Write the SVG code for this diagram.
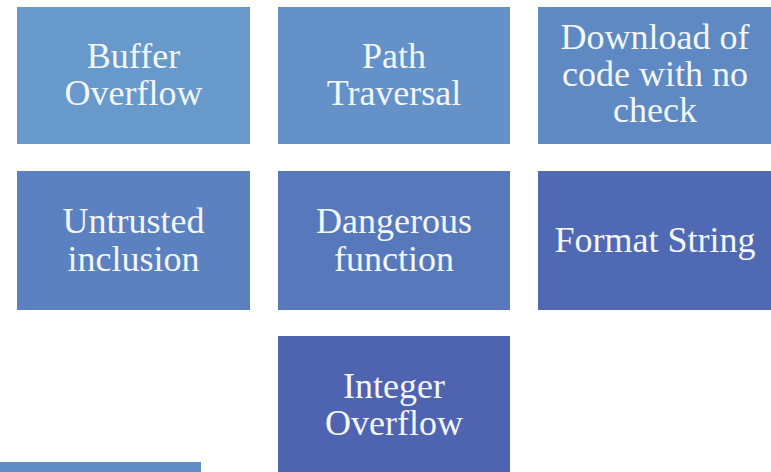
<svg xmlns="http://www.w3.org/2000/svg" width="771" height="472" viewBox="0 0 771 472">
<style>
.box{stroke:none}
.lbl{font-family:"Liberation Serif","Times New Roman",serif;font-size:36px;fill:#f3f6fb;text-anchor:middle}
</style>
<rect x="0" y="0" width="771" height="472" fill="#ffffff"/>
<g id="connectors"></g>
<g id="n-buffer-overflow">
<rect class="box" x="17" y="7" width="233" height="137" fill="#6799cb"/>
<text class="lbl" x="133.5" y="68">Buffer</text>
<text class="lbl" x="133.5" y="105">Overflow</text>
</g>
<g id="n-path-traversal">
<rect class="box" x="278" y="7" width="232" height="137" fill="#6492c8"/>
<text class="lbl" x="394" y="68">Path</text>
<text class="lbl" x="394" y="105">Traversal</text>
</g>
<g id="n-download">
<rect class="box" x="538" y="7" width="233" height="137" fill="#5e89c3"/>
<text class="lbl" x="655" y="49">Download of</text>
<text class="lbl" x="655" y="86">code with no</text>
<text class="lbl" x="655" y="122">check</text>
</g>
<g id="n-untrusted">
<rect class="box" x="17" y="171" width="233" height="139" fill="#5b81c0"/>
<text class="lbl" x="133.5" y="233">Untrusted</text>
<text class="lbl" x="133.5" y="271">inclusion</text>
</g>
<g id="n-dangerous">
<rect class="box" x="278" y="171" width="232" height="139" fill="#5779bc"/>
<text class="lbl" x="394" y="233">Dangerous</text>
<text class="lbl" x="394" y="271">function</text>
</g>
<g id="n-format-string">
<rect class="box" x="538" y="171" width="233" height="139" fill="#4f69b3"/>
<text class="lbl" x="655" y="252">Format String</text>
</g>
<g id="n-integer-overflow">
<rect class="box" x="278" y="336" width="232" height="136" fill="#4f64b0"/>
<text class="lbl" x="394" y="398">Integer</text>
<text class="lbl" x="394" y="435">Overflow</text>
</g>
<g id="n-partial">
<rect class="box" x="0" y="462" width="201" height="10" fill="#5f8cc5"/>
</g>
</svg>
